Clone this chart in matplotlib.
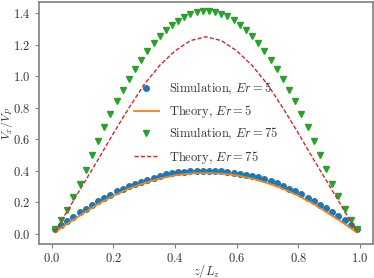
import matplotlib
matplotlib.use("Agg")
import matplotlib.pyplot as plt

# simulation points, z/Lz = 0.01 ... 0.99
z_sim = [0.01, 0.03, 0.05, 0.07, 0.09, 0.11, 0.13, 0.15, 0.17, 0.19,
         0.21, 0.23, 0.25, 0.27, 0.29, 0.31, 0.33, 0.35, 0.37, 0.39,
         0.41, 0.43, 0.45, 0.47, 0.49, 0.51, 0.53, 0.55, 0.57, 0.59,
         0.61, 0.63, 0.65, 0.67, 0.69, 0.71, 0.73, 0.75, 0.77, 0.79,
         0.81, 0.83, 0.85, 0.87, 0.89, 0.91, 0.93, 0.95, 0.97, 0.99]

sim_er5 = [0.034, 0.057, 0.083, 0.110, 0.138, 0.161, 0.185, 0.208, 0.229, 0.250,
           0.270, 0.287, 0.304, 0.318, 0.331, 0.344, 0.357, 0.368, 0.378, 0.386,
           0.392, 0.396, 0.398, 0.400, 0.402, 0.402, 0.400, 0.398, 0.395, 0.390,
           0.384, 0.376, 0.368, 0.359, 0.348, 0.336, 0.323, 0.306, 0.287, 0.270,
           0.252, 0.229, 0.208, 0.186, 0.164, 0.139, 0.112, 0.086, 0.057, 0.031]

sim_er75 = [0.034, 0.089, 0.155, 0.233, 0.319, 0.409, 0.499, 0.588, 0.680, 0.762,
            0.843, 0.916, 0.985, 1.049, 1.107, 1.161, 1.212, 1.256, 1.294, 1.328,
            1.353, 1.376, 1.396, 1.410, 1.417, 1.417, 1.410, 1.397, 1.382, 1.359,
            1.329, 1.295, 1.257, 1.212, 1.161, 1.106, 1.049, 0.985, 0.917, 0.843,
            0.762, 0.680, 0.588, 0.501, 0.410, 0.320, 0.240, 0.157, 0.089, 0.034]

# theory curves
z_th = [0.01, 0.05, 0.10, 0.15, 0.20, 0.25, 0.30, 0.35, 0.40, 0.45, 0.50,
        0.55, 0.60, 0.65, 0.70, 0.75, 0.80, 0.85, 0.90, 0.95, 0.99]

th_er5 = [0.010, 0.065, 0.128, 0.190, 0.243, 0.288, 0.323, 0.352, 0.373, 0.384, 0.387,
          0.384, 0.373, 0.352, 0.323, 0.288, 0.243, 0.190, 0.128, 0.065, 0.010]

th_er75 = [0.015, 0.145, 0.310, 0.472, 0.640, 0.800, 0.950, 1.070, 1.163, 1.228, 1.252,
           1.228, 1.163, 1.070, 0.950, 0.800, 0.640, 0.472, 0.310, 0.145, 0.015]

plt.rcParams['font.family'] = 'serif'
plt.rcParams['font.serif'] = ['cmr10', 'DejaVu Serif']
plt.rcParams['mathtext.fontset'] = 'cm'
plt.rcParams['axes.formatter.use_mathtext'] = True
plt.rcParams['font.size'] = 9

fig = plt.figure(figsize=(3.74, 2.78), dpi=100)
ax = fig.add_axes([0.104, 0.122, 0.893, 0.871])

ax.plot(z_sim, sim_er5, 'o', ms=4, color='#1f77b4', label=r'Simulation, $Er=5$')
ax.plot(z_th, th_er5, '-', lw=1.3, color='#ff7f0e', label=r'Theory, $Er=5$')
ax.plot(z_sim, sim_er75, 'v', ms=4.5, color='#2ca02c', label=r'Simulation, $Er=75$')
ax.plot(z_th, th_er75, '--', lw=1.0, color='#d62728', dashes=(3, 1.5),
        label=r'Theory, $Er=75$')

ax.set_xlim(-0.042, 1.042)
ax.set_ylim(-0.064, 1.473)
ax.set_xticks([0.0, 0.2, 0.4, 0.6, 0.8, 1.0])
ax.set_yticks([0.0, 0.2, 0.4, 0.6, 0.8, 1.0, 1.2, 1.4])
ax.set_xlabel(r'$z/L_z$', color='0.2')
ax.set_ylabel(r'$V_x/V_P$', color='0.2', fontsize=8.5)
ax.xaxis.set_label_coords(0.5, -0.072)
ax.yaxis.set_label_coords(-0.071, 0.5)

for s in ax.spines.values():
    s.set_color('0.5')
    s.set_linewidth(1.2)
ax.tick_params(axis='both', colors='0.5', length=3, width=0.8, pad=3)
for lab in ax.get_xticklabels() + ax.get_yticklabels():
    lab.set_color('0.2')

leg = ax.legend(loc='center', frameon=False, handlelength=2.0)
for t in leg.get_texts():
    t.set_color('0.2')

fig.savefig('out.png', dpi=100)
